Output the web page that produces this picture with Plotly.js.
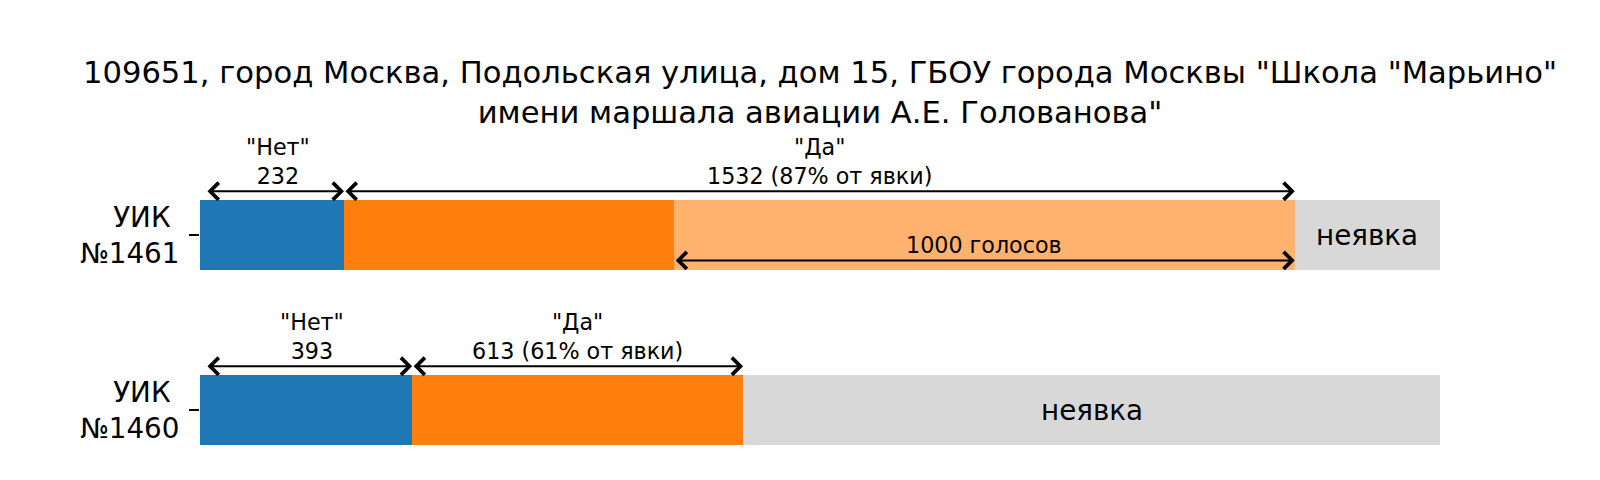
<!DOCTYPE html>
<html>
<head>
<meta charset="utf-8">
<script src="https://cdn.plot.ly/plotly-3.0.1.min.js"></script>
<style>html,body{margin:0;padding:0;background:#fff;}#chart{width:1600px;height:480px;}</style>
</head>
<body>
<div id="chart"></div>
<script>
// ---- data ----
const stations = ['УИК\u00a0<br>№1460', 'УИК\u00a0<br>№1461'];
const registered = [2297, 1998];     // estimated total voters per station
const votesNo = [393, 232];
const votesYes = [613, 1532];
const highlightYes = [0, 1000];      // marked "1000 голосов" part of "Да"
const titleText = '109651, город Москва, Подольская улица, дом 15, ГБОУ города Москвы "Школа "Марьино"<br>имени маршала авиации А.Е. Голованова"';

// ---- derived ----
const yPos = stations.map((_, i) => i);
const fNo = votesNo.map((v, i) => v / registered[i]);
const fYesBase = votesYes.map((v, i) => (v - highlightYes[i]) / registered[i]);
const fYesHi = highlightYes.map((v, i) => v / registered[i]);
const fAbsent = registered.map((r, i) => (r - votesNo[i] - votesYes[i]) / r);

const FONT = 'DejaVu Sans';
const barW = 0.4;

function barTrace(x, color, name) {
  return {type: 'bar', orientation: 'h', y: yPos, x: x, width: barW,
    marker: {color: color, line: {width: 0}}, name: name, hoverinfo: 'skip'};
}
const traces = [
  barTrace(fNo, '#1f77b4', 'Нет'),
  barTrace(fYesBase, '#ff7f0e', 'Да'),
  barTrace(fYesHi, '#ffb26e', '1000 голосов'),
  barTrace(fAbsent, '#d8d8d8', 'неявка')
];

const annotations = [];
function arrow(x0, x1, y, startOff) {
  annotations.push({x: x1, y: y, ax: x0, ay: y, xref: 'x', yref: 'y', axref: 'x', ayref: 'y',
    showarrow: true, arrowside: 'end+start', arrowhead: 4, startarrowhead: 4,
    arrowsize: 1.65, startarrowsize: 1.65, arrowwidth: 2, arrowcolor: '#000',
    standoff: 0, startstandoff: startOff || 0, text: ''});
}
function label(x, y, text, size, anchor) {
  annotations.push({x: x, y: y, xref: 'x', yref: 'y', text: text, showarrow: false,
    yanchor: anchor || 'bottom', xanchor: 'center', font: {family: FONT, size: size, color: '#000'}});
}
yPos.forEach((yc, i) => {
  const ya = yc + 0.25;
  const noEnd = fNo[i];
  const yesEnd = fNo[i] + fYesBase[i] + fYesHi[i];
  const turnout = votesNo[i] + votesYes[i];
  const pct = Math.round(100 * votesYes[i] / turnout);
  arrow(0, noEnd, ya, 6);
  arrow(noEnd, yesEnd, ya, 0);
  label((noEnd + 0.005) / 2 + 0.0025, ya, '"Нет"<br>' + votesNo[i], 16 * 1.389);
  label((noEnd + yesEnd) / 2, ya, '"Да"<br>' + votesYes[i] + ' (' + pct + '% от явки)', 16 * 1.389);
  if (highlightYes[i] > 0) {
    const hs = fNo[i] + fYesBase[i];
    arrow(hs, yesEnd, yc - 0.145, 0);
    label((hs + yesEnd) / 2, yc - 0.145, highlightYes[i] + ' голосов', 16 * 1.389);
  }
  label((yesEnd + 1) / 2, yc, 'неявка', 20 * 1.389, 'middle');
});

const layout = {
  width: 1600, height: 480,
  paper_bgcolor: '#fff', plot_bgcolor: '#fff',
  margin: {l: 200, r: 160, t: 0, b: 0, pad: 0},
  barmode: 'stack', showlegend: false,
  font: {family: FONT, color: '#000'},
  title: {text: titleText, font: {family: FONT, size: 30.6, color: '#000'},
    x: 0.5, xref: 'paper', xanchor: 'center', y: 1 - 83 / 480, yref: 'container', yanchor: 'top'},
  xaxis: {range: [0, 1], visible: false, showgrid: false, zeroline: false, fixedrange: true},
  yaxis: {range: [-0.4, 2.343], tickvals: yPos, ticktext: stations,
    ticks: 'outside', ticklen: 10, tickwidth: 1.6, tickcolor: '#000',
    showgrid: false, zeroline: false, showline: false, ticklabelstandoff: 4,
    tickfont: {family: FONT, size: 20 * 1.389, color: '#000'}, fixedrange: true},
  annotations: annotations
};
Plotly.newPlot('chart', traces, layout, {displayModeBar: false, staticPlot: true});
</script>
</body>
</html>
